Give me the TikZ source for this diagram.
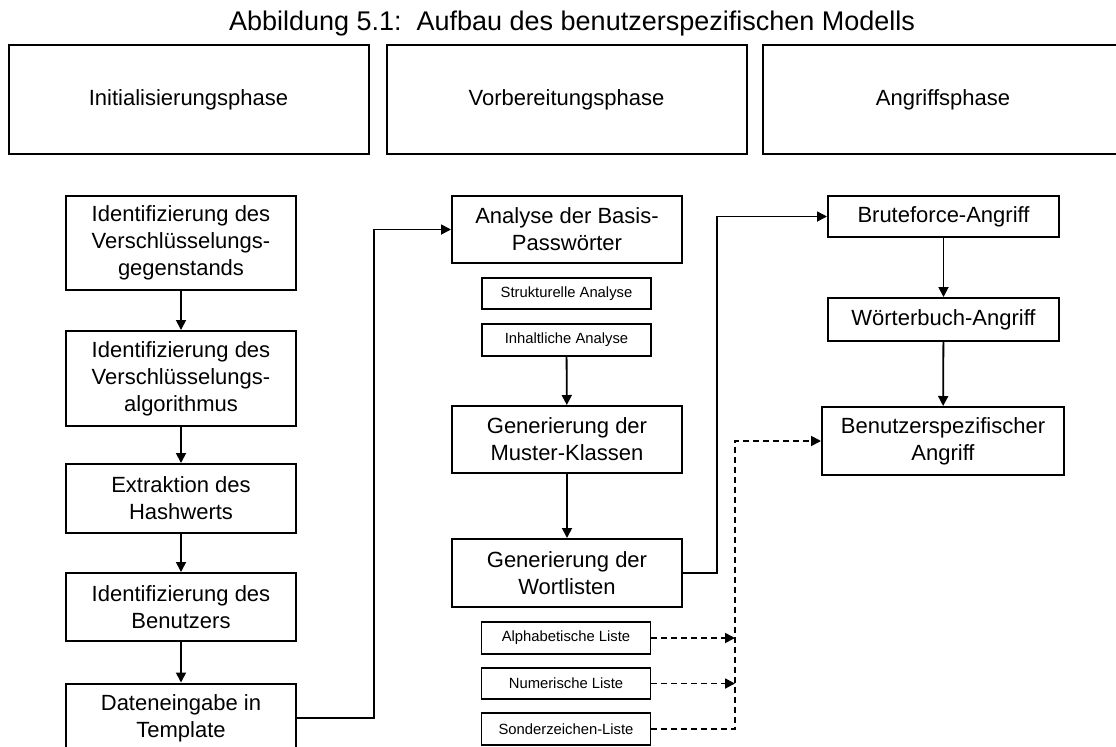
\documentclass[tikz,border=0pt]{standalone}
\usepackage{fontspec}
\setmainfont{Liberation Sans}
\usetikzlibrary{arrows.meta}

\begin{document}
\begin{tikzpicture}[x=0.5pt,y=-0.5pt,
    boxnode/.style={draw=black, line width=1pt, inner sep=0pt, minimum width=115pt, align=center, font=\fontsize{11}{13.5}\selectfont},
    smallnode/.style={draw=black, line width=0.9pt, inner sep=0pt, minimum width=84.5pt, minimum height=16pt, align=center, font=\fontsize{7.4}{9}\selectfont},
    phasenode/.style={draw=black, line width=1pt, inner sep=0pt, minimum width=180pt, minimum height=54.5pt, font=\fontsize{11}{13.5}\selectfont},
    arr/.style={line width=0.9pt, -{Triangle[length=5pt,width=5pt]}},
    dasharr/.style={arr, dash pattern=on 3pt off 2pt}
    ]
    \useasboundingbox (0,0) rectangle (1116,746);

    \node [font=\fontsize{13.5}{16}\selectfont] (title) at (572,24) {Abbildung 5.1:\ \ Aufbau des benutzerspezifischen Modells};

    % Phasen
    \node [phasenode] (p1) at (188.5,99.5) {Initialisierungsphase};
    \node [phasenode] (p2) at (566.5,99.5) {Vorbereitungsphase};
    \node [phasenode] (p3) at (943,99.5) {Angriffsphase};

    % Initialisierung
    \node [boxnode,minimum height=47pt] (a1) at (181,243) {Identifizierung des\\Verschlüsselungs-\\gegenstands};
    \node [boxnode,minimum height=47.5pt] (a2) at (181,378.5) {Identifizierung des\\Verschlüsselungs-\\algorithmus};
    \node [boxnode,minimum height=34.5pt] (a3) at (181,498.5) {Extraktion des\\Hashwerts};
    \node [boxnode,minimum height=34pt] (a4) at (181,607) {Identifizierung des\\Benutzers};
    \node [boxnode,minimum height=34.5pt] (a5) at (181,718) {Dateneingabe in\\Template};

    % Vorbereitung
    \node [boxnode,minimum height=33.5pt] (b1) at (567,229.5) {Analyse der Basis-\\Passwörter};
    \node [smallnode,minimum height=15.5pt] (s1) at (566.5,293.5) {Strukturelle Analyse};
    \node [smallnode] (s2) at (566.5,340) {Inhaltliche Analyse};
    \node [boxnode,minimum height=33.5pt] (b2) at (567,439.5) {Generierung der\\Muster-Klassen};
    \node [boxnode,minimum height=34pt] (b3) at (567,573) {Generierung der\\Wortlisten};
    \node [smallnode] (l1) at (566,638) {Alphabetische Liste};
    \node [smallnode,minimum height=15.5pt] (l2) at (566,683.5) {Numerische Liste};
    \node [smallnode] (l3) at (566,729) {Sonderzeichen-Liste};

    % Angriff
    \node [boxnode,minimum width=115.5pt,minimum height=20.5pt] (c1) at (943.5,216.5) {Bruteforce-Angriff};
    \node [boxnode,minimum width=115.5pt,minimum height=21.5pt] (c2) at (943.5,319.5) {Wörterbuch-Angriff};
    \node [boxnode,minimum width=121pt,minimum height=34pt] (c3) at (943,441) {Benutzerspezifischer\\Angriff};

    \coordinate (j) at (735,441);

    \draw [arr] (a1) -- (a2);
    \draw [arr] (a2) -- (a3);
    \draw [arr] (a3) -- (a4);
    \draw [arr] (a4) -- (a5);
    \draw [arr] (a5.east) -- ++(77,0) |- (b1.west);

    \draw [arr] (s2) -- (b2);
    \draw [arr] (b2) -- (b3);
    \draw [arr] (b3.east) -- ++(34,0) |- (c1.west);

    \draw [arr] (c1) -- (c2);
    \draw [arr] (c2) -- (c3);

    \draw [dasharr] (l1.east) -- (l1.east -| j);
    \draw [dasharr] (l2.east) -- (l2.east -| j);
    \draw [dasharr] (l3.east) -| (j) -- (c3.west);

\end{tikzpicture}
\end{document}
